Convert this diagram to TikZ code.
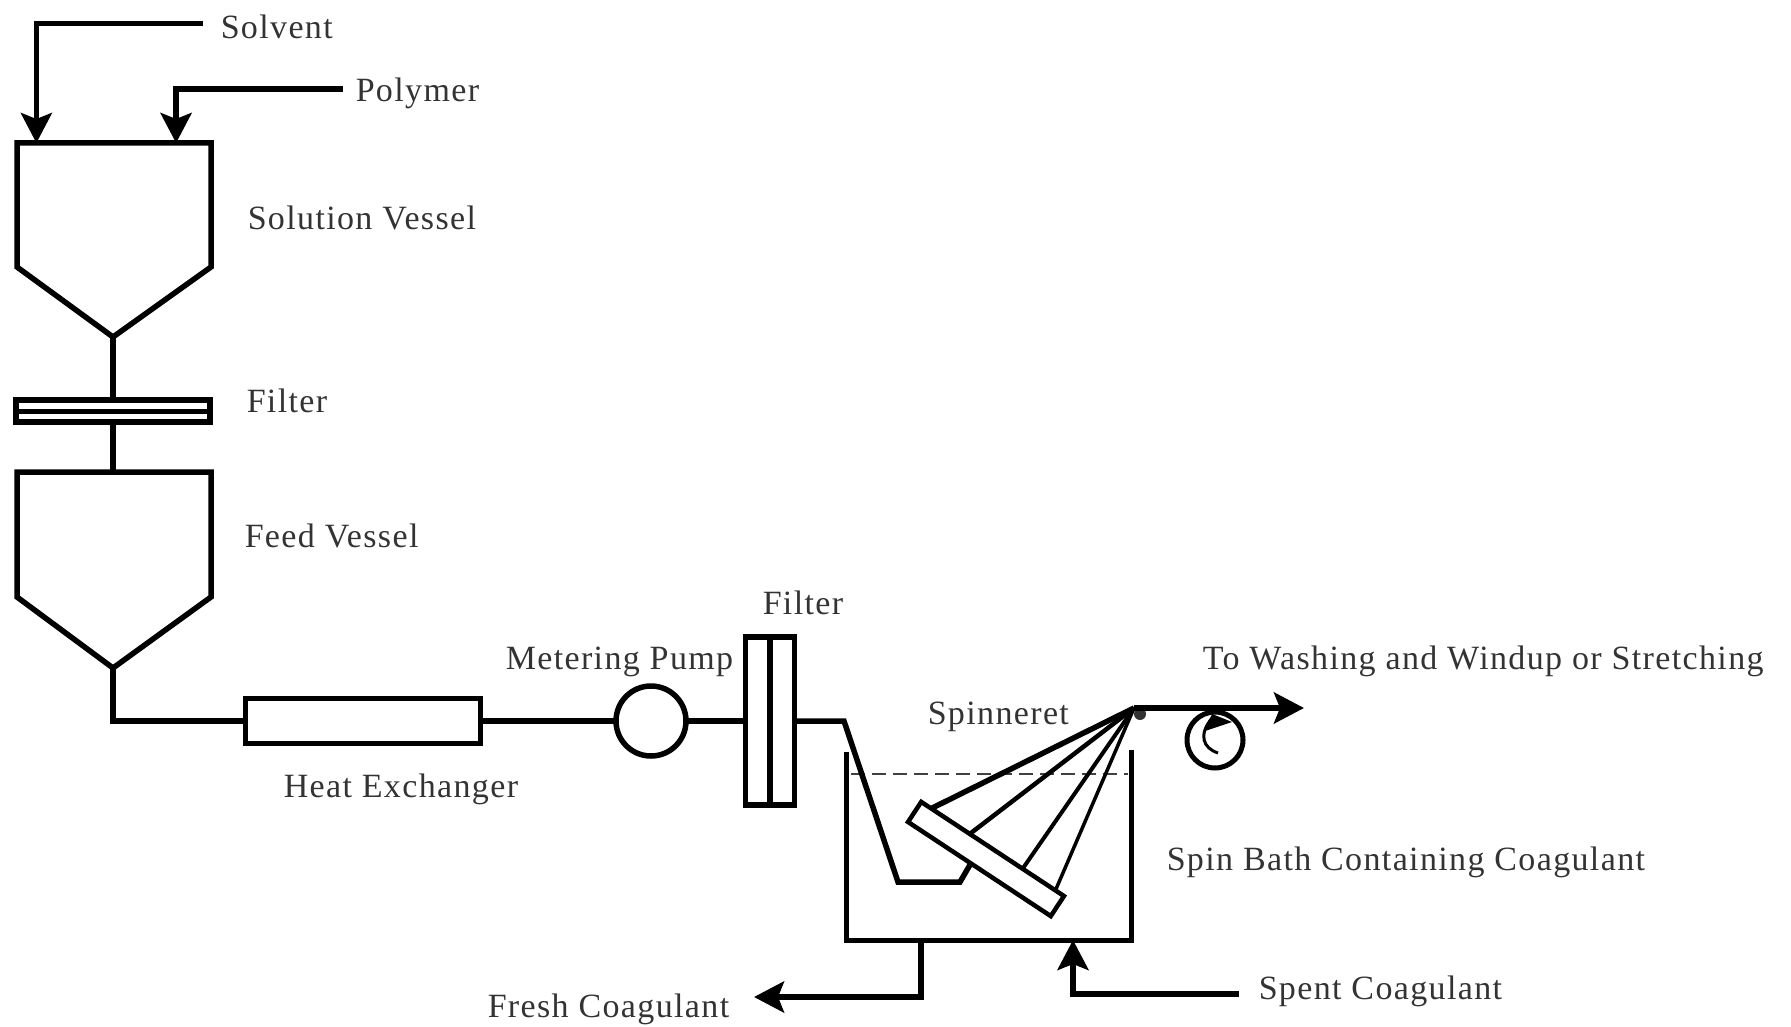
\documentclass[tikz,border=0pt]{standalone}
\usepackage{fontspec}
\setmainfont[LetterSpace=4]{Liberation Serif}
\usetikzlibrary{positioning,calc,arrows.meta}

\begin{document}
\begin{tikzpicture}[x=1pt,y=-1pt,>={Stealth[length=30pt,width=31pt,inset=6pt]},
      line width=5.5pt,line join=miter,
      pipe/.style={draw,line width=5.5pt},
      thin pipe/.style={draw,line width=5pt},
      equip node/.style={rectangle,draw,fill=white,line width=5.5pt,inner sep=0pt,outer sep=0pt},
      label node/.style={font=\fontsize{34}{40}\selectfont,text=black!80,inner sep=0pt,anchor=west}]
      \useasboundingbox (0,0) rectangle (1791,1027);

      % vessels
      \coordinate (sv nw) at (17,143);
      \coordinate (sv ne) at (211,143);
      \coordinate (sv tip) at (113,337);
      \coordinate (fv tip) at (113,668);
      \draw[pipe] (sv nw) -- (17,267) -- (sv tip) -- (211,267) -- (sv ne) -- cycle;
      \draw[pipe] (17,472) coordinate (fv nw) -- (17,597) -- (fv tip) -- (211,597) -- (211,472) coordinate (fv ne) -- cycle;

      \node[equip node,minimum width=194pt,minimum height=22pt] (filter a) at (113,411) {};
      \draw[line width=5pt] (filter a.west) -- (filter a.east);

      % process line
      \node[equip node,minimum width=235pt,minimum height=45pt] (hx) at (363,721) {};
      \node[equip node,circle,minimum size=70pt] (pump) [right=135.5pt of hx] {};
      \node[equip node,minimum width=49pt,minimum height=168pt] (filter b) [right=59.5pt of pump] {};
      \draw[line width=5.5pt] (filter b.north) -- (filter b.south);

      \node[equip node,line width=4.5pt,minimum width=171pt,minimum height=24pt,rotate=-33.4] (plate) at (986,859) {};
      \coordinate (spin) at (1134,708);
      \coordinate (bend a) at (844,721);
      \coordinate (bend b) at (898,882);
      \coordinate (bend c) at (960,882);

      % spin bath
      \coordinate (bath nw) at (846,752);
      \coordinate (bath ne) at (1131,750);
      \coordinate (bath sw) at (846,940);
      \coordinate (bath se) at (1131,940);
      \draw[line width=5pt] (bath nw) -- (bath sw) -- (bath se) -- (bath ne);
      \draw[dashed,line width=2pt,dash pattern=on 14pt off 7pt,black!75] (851,774) -- (1128,774);

      \draw[pipe] (sv tip) -- (filter a);
      \draw[pipe] (filter a) -- (113,472);
      \draw[pipe] (fv tip) |- (hx);
      \draw[pipe] (hx) -- (pump);
      \draw[pipe] (pump) -- (filter b.west);
      \draw[pipe] (filter b.east) -- (bend a) -- (bend b) -- (bend c) -- ($(plate.south west)!.44!(plate.south east)$);

      % spinneret
      \draw[line width=5.5pt] (spin) -- ($(plate.north west)!.07!(plate.north east)$);
      \draw[line width=4.5pt] (spin) -- ($(plate.north west)!.34!(plate.north east)$);
      \draw[line width=4pt] (spin) -- ($(plate.north west)!.71!(plate.north east)$);
      \draw[line width=3.5pt] (spin) -- ($(plate.north west)!.94!(plate.north east)$);
      \node[circle,fill=black!80,minimum size=12pt,inner sep=0pt] (head) at (1140,714) {};

      \coordinate (out) at (1304,708);
      \draw[->,pipe] (spin) -- (out);
      \node[circle,draw,line width=5pt,minimum size=56pt,inner sep=0pt] (roller) at (1215,740) {};
      \draw[line width=3pt] (1212,718) .. controls (1198,735) and (1203,748) .. (1218,753);
      \fill (1205,731) -- (1212,714) -- (1232,722) -- cycle;

      % feeds
      \node[label node] (solvent) at (218,27) {Solvent};
      \node[label node] (polymer) at (353,93) {Polymer};
      \coordinate (solvent end) at (203,24);
      \coordinate (polymer end) at (343,89);
      \draw[->,thin pipe] (solvent end) -| ($(sv nw)!.1!(sv ne)$);
      \draw[->,pipe] (polymer end) -| ($(sv nw)!.82!(sv ne)$);

      \coordinate (fresh end) at (754,997);
      \coordinate (spent end) at (1239,994);
      \draw[->,pipe] (921,940) |- (fresh end);
      \draw[->,pipe] (spent end) -| (1073,940);

      % labels
      \node[label node] (sv label) at (245,218) {Solution Vessel};
      \node[label node] (filter a label) at (244,401) {Filter};
      \node[label node] (fv label) at (242,536) {Feed Vessel};
      \node[label node] (filter b label) at (760,603) {Filter};
      \node[label node] (pump label) at (503,662) {Metering Pump};
      \node[label node] (hx label) at (281,789) {Heat Exchanger};
      \node[label node] (spin label) at (925,717) {Spinneret};
      \node[label node] (out label) at (1200,661) {To Washing and Windup or Stretching};
      \node[label node] (bath label) at (1164,862) {Spin Bath Containing Coagulant};
      \node[label node] (fresh label) at (485,1009) {Fresh Coagulant};
      \node[label node] (spent label) at (1256,991) {Spent Coagulant};
    \end{tikzpicture}
\end{document}
